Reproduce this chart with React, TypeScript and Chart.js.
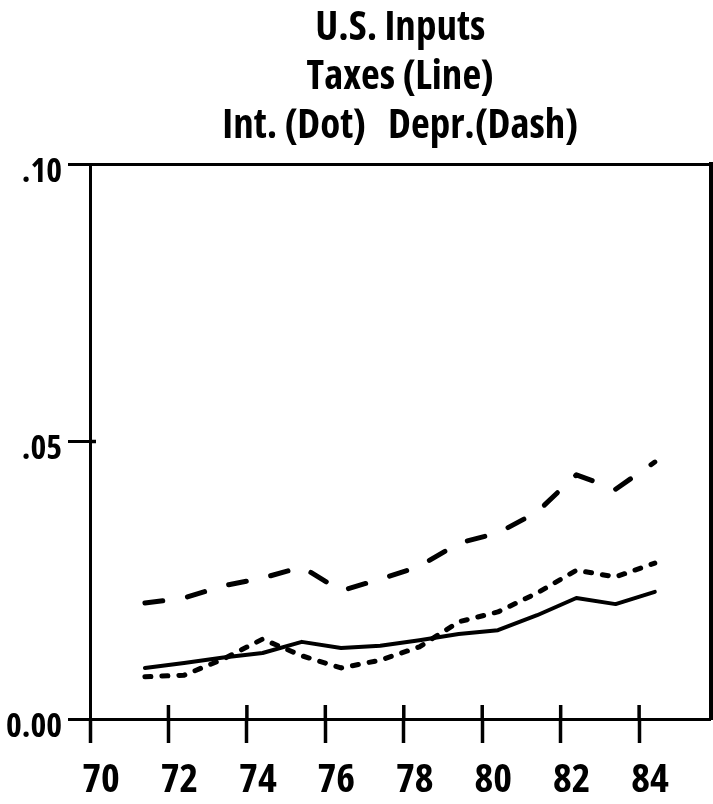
import React, { useEffect, useRef } from "react";
import { Chart, registerables } from "chart.js";

Chart.register(...registerables);

// ---- data ----
const titleLines = ["U.S. Inputs", "Taxes (Line)", "Int. (Dot)   Depr.(Dash)"];

const years = [71.4, 72.4, 73.4, 74.4, 75.4, 76.4, 77.4, 78.4, 79.4, 80.4, 81.4, 82.4, 83.4, 84.4];
const taxes = [0.0092, 0.0101, 0.0111, 0.0119, 0.0139, 0.0128, 0.0132, 0.0142, 0.0153, 0.016, 0.0187, 0.0218, 0.0207, 0.0229];
const interest = [0.0076, 0.0079, 0.0108, 0.0144, 0.0114, 0.0092, 0.0106, 0.013, 0.0175, 0.0193, 0.0227, 0.0268, 0.0256, 0.0281];
const depreciation = [0.0209, 0.0218, 0.024, 0.0254, 0.0274, 0.0231, 0.0252, 0.0275, 0.0317, 0.0335, 0.0373, 0.044, 0.0414, 0.0463];

const xTickValues = [70, 72, 74, 76, 78, 80, 82, 84];
const xTickLabels = ["70", "72", "74", "76", "78", "80", "82", "84"];
const yTickValues = [0, 0.05, 0.1];
const yTickLabels = ["0.00", ".05", ".10"];

const X_MIN = 70;
const X_MAX = 85.82;
const Y_MIN = 0;
const Y_MAX = 0.1;

const INK = "#000000";

// candidate condensed bold faces (weight string may carry a font-stretch keyword)
const fontCandidates = [
  { weight: "bold extra-condensed", family: '"Noto Sans"' },
  { weight: "bold condensed", family: '"Noto Sans"' },
  { weight: "bold ultra-condensed", family: '"Noto Sans"' },
  { weight: "bold extra-condensed", family: '"Open Sans"' },
  { weight: "bold condensed", family: '"Open Sans"' },
  { weight: "bold", family: '"Liberation Sans Narrow"' },
  { weight: "bold condensed", family: '"Liberation Sans"' },
  { weight: "bold condensed", family: '"DejaVu Sans"' },
  { weight: "bold", family: '"DejaVu Sans Condensed", sans-serif' },
];

const clamp = (v: number, lo: number, hi: number) => Math.max(lo, Math.min(hi, v));

function pickFont() {
  const c = document.createElement("canvas").getContext("2d") as CanvasRenderingContext2D;
  const target = 5.15; // width of "U.S. Inputs" / cap height in the reference
  let best = fontCandidates[fontCandidates.length - 1];
  let bestScore = Infinity;
  let bestW = 0;
  for (const f of fontCandidates) {
    c.font = "10px serif";
    c.font = `${f.weight} 40px ${f.family}`;
    if (!c.font.includes("40px")) continue;
    const w = c.measureText("U.S. Inputs").width;
    const r = w / (40 * 0.714);
    const score = Math.abs(r - target);
    if (score < bestScore) {
      bestScore = score;
      best = f;
      bestW = w;
    }
  }
  c.font = `${best.weight} 40px ${best.family}`;
  if (!bestW) bestW = c.measureText("U.S. Inputs").width;
  c.font = `${best.weight} 34px ${best.family}`;
  const w70 = c.measureText("70").width || 38;
  const w000 = c.measureText("0.00").width || 56;
  const titleSize = clamp((40 * 170) / bestW, 30, 47);
  const xTickSize = clamp((34 * 38) / w70, 26, 40);
  const yTickSize = clamp((34 * 56) / w000, 24, 40);
  return { face: best, titleSize, xTickSize, yTickSize };
}

const innerTicks = {
  id: "innerTicks",
  afterDraw(chart: any) {
    const { ctx, chartArea, scales } = chart;
    const xs = scales.x;
    const ys = scales.y;
    ctx.save();
    ctx.strokeStyle = INK;
    ctx.lineWidth = 3.5;
    ctx.beginPath();
    xTickValues.forEach((v) => {
      if (v === X_MIN) return;
      const px = xs.getPixelForValue(v);
      ctx.moveTo(px, chartArea.bottom - 14);
      ctx.lineTo(px, chartArea.bottom);
    });
    const py = ys.getPixelForValue(0.05);
    ctx.moveTo(chartArea.left, py);
    ctx.lineTo(chartArea.left + 6, py);
    ctx.stroke();
    ctx.restore();
  },
};

export default function App() {
  const canvasRef = useRef<HTMLCanvasElement | null>(null);

  useEffect(() => {
    const canvas = canvasRef.current;
    if (!canvas) return;
    const { face, titleSize, xTickSize, yTickSize } = pickFont();
    const toPts = (ys: number[]) => years.map((x, i) => ({ x, y: ys[i] }));
    const chart = new Chart(canvas, {
      type: "line",
      data: {
        datasets: [
          {
            label: "Taxes",
            data: toPts(taxes),
            borderColor: INK,
            borderWidth: 4,
            pointRadius: 0,
            tension: 0,
            borderJoinStyle: "round",
            borderCapStyle: "round",
          },
          {
            label: "Int.",
            data: toPts(interest),
            borderColor: INK,
            borderWidth: 5,
            borderDash: [6, 11],
            pointRadius: 0,
            tension: 0,
            borderJoinStyle: "round",
            borderCapStyle: "round",
          },
          {
            label: "Depr.",
            data: toPts(depreciation),
            borderColor: INK,
            borderWidth: 5,
            borderDash: [18, 25],
            pointRadius: 0,
            tension: 0,
            borderJoinStyle: "round",
            borderCapStyle: "round",
          },
        ],
      },
      options: {
        responsive: false,
        animation: false,
        devicePixelRatio: 1,
        layout: { padding: 0 },
        plugins: {
          legend: { display: false },
          tooltip: { enabled: false },
          title: {
            display: true,
            text: titleLines,
            fullSize: false,
            color: INK,
            font: { family: face.family, size: titleSize, weight: face.weight, lineHeight: "49px" },
            padding: { top: 4, bottom: 13 },
          },
        },
        scales: {
          x: {
            type: "linear",
            min: X_MIN,
            max: X_MAX,
            afterBuildTicks: (s: any) => {
              s.ticks = xTickValues.map((v) => ({ value: v }));
            },
            afterFit: (s: any) => {
              s.height = 85;
            },
            ticks: {
              autoSkip: false,
              maxRotation: 0,
              padding: 14,
              labelOffset: 11,
              color: INK,
              font: { family: face.family, weight: face.weight, size: xTickSize },
              callback: (v: any) => {
                const i = xTickValues.indexOf(Number(v));
                return i >= 0 ? xTickLabels[i] : "";
              },
            },
            grid: {
              drawOnChartArea: false,
              drawTicks: true,
              tickLength: 24,
              tickColor: INK,
              tickWidth: 3.5,
            },
            border: { display: true, color: INK, width: 3 },
          },
          y: {
            type: "linear",
            position: "left",
            min: Y_MIN,
            max: Y_MAX,
            afterBuildTicks: (s: any) => {
              s.ticks = yTickValues.map((v) => ({ value: v }));
            },
            afterFit: (s: any) => {
              s.width = 90;
            },
            ticks: {
              padding: 6,
              labelOffset: 8,
              color: INK,
              font: { family: face.family, weight: face.weight, size: yTickSize },
              callback: (v: any) => {
                const i = yTickValues.findIndex((t) => Math.abs(t - Number(v)) < 1e-9);
                return i >= 0 ? yTickLabels[i] : "";
              },
            },
            grid: {
              drawOnChartArea: true,
              color: (ctx: any) =>
                ctx.tick && Math.abs(ctx.tick.value - Y_MAX) < 1e-9 ? INK : "rgba(0,0,0,0)",
              lineWidth: 3,
              drawTicks: true,
              tickLength: 22,
              tickColor: INK,
              tickWidth: 3,
            },
            border: { display: true, color: INK, width: 3 },
          },
          frame: {
            type: "linear",
            position: "right",
            display: true,
            afterFit: (s: any) => {
              s.width = 2.5;
            },
            ticks: { display: false },
            grid: { display: false, drawTicks: false },
            border: { display: true, color: INK, width: 4 },
          },
        },
      },
      plugins: [innerTicks],
    } as any);
    return () => chart.destroy();
  }, []);

  return (
    <div style={{ position: "absolute", left: 0, top: 0, width: 713, height: 804, background: "#fff" }}>
      <canvas ref={canvasRef} width={713} height={804} style={{ display: "block" }} />
    </div>
  );
}
